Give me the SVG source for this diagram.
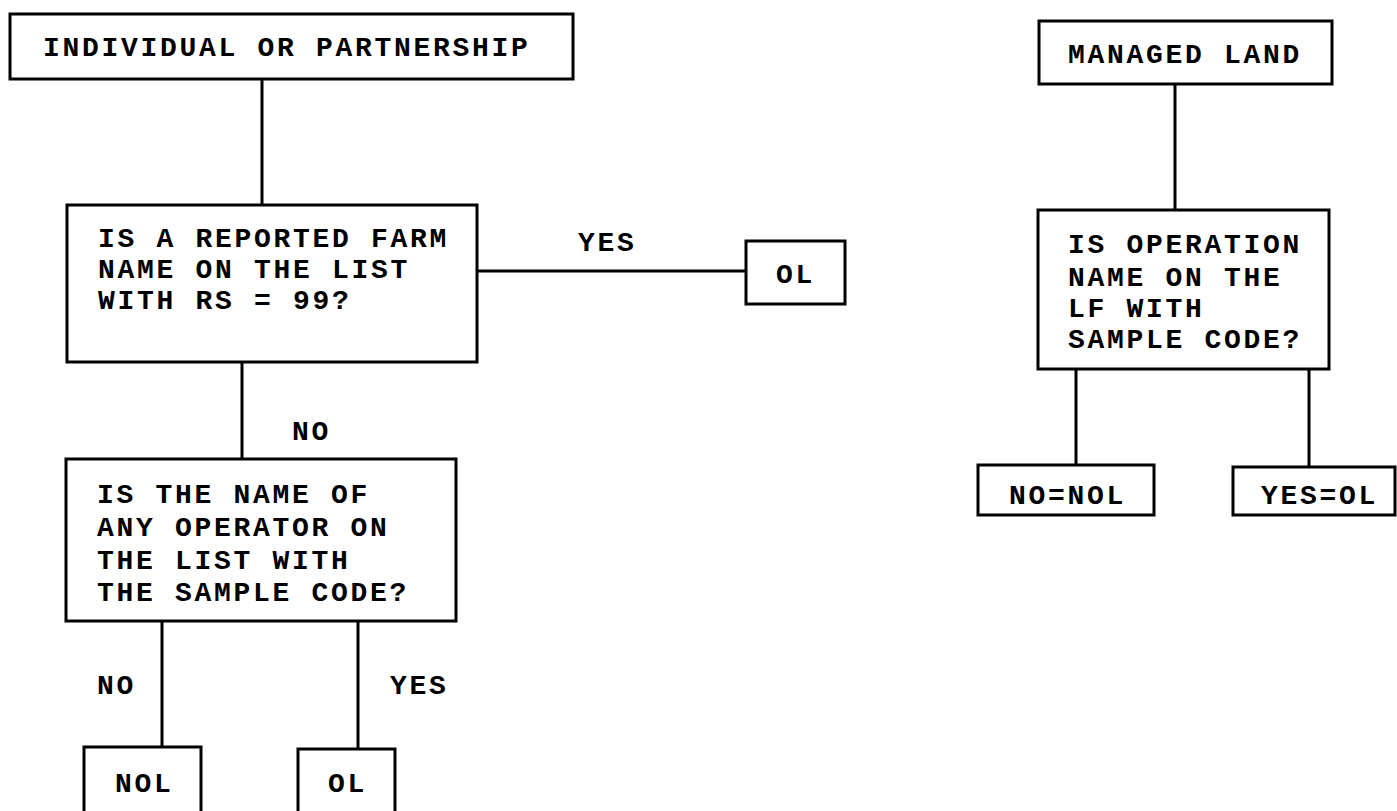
<svg xmlns="http://www.w3.org/2000/svg" width="1397" height="811" viewBox="0 0 1397 811">
<style>
.box{fill:#fff;stroke:#000;stroke-width:3}
.ln{fill:none;stroke:#000;stroke-width:3}
text{font-family:"Liberation Mono","Courier New",monospace;font-weight:bold;font-size:28px;letter-spacing:2.7px;fill:#000}
</style>
<rect width="1397" height="811" fill="#fff"/>
<g id="connectors">
<line class="ln" x1="262" y1="79" x2="262" y2="205"/>
<line class="ln" x1="477" y1="271" x2="746" y2="271"/>
<line class="ln" x1="242" y1="362" x2="242" y2="459"/>
<line class="ln" x1="162" y1="621" x2="162" y2="747"/>
<line class="ln" x1="358" y1="621" x2="358" y2="749"/>
<line class="ln" x1="1175" y1="84" x2="1175" y2="210"/>
<line class="ln" x1="1076" y1="369" x2="1076" y2="465"/>
<line class="ln" x1="1309" y1="369" x2="1309" y2="467"/>
<text x="578" y="251">YES</text>
<text x="292" y="440">NO</text>
<text x="97" y="694">NO</text>
<text x="390" y="694">YES</text>
</g>
<g id="n1">
<rect class="box" x="10" y="14" width="563" height="65"/>
<text x="43" y="56">INDIVIDUAL OR PARTNERSHIP</text>
</g>
<g id="n2">
<rect class="box" x="67" y="205" width="410" height="157"/>
<text x="98" y="247">IS A REPORTED FARM</text>
<text x="98" y="278">NAME ON THE LIST</text>
<text x="98" y="309">WITH RS = 99?</text>
</g>
<g id="n3">
<rect class="box" x="746" y="241" width="99" height="63"/>
<text x="776" y="283">OL</text>
</g>
<g id="n4">
<rect class="box" x="66" y="459" width="390" height="162"/>
<text x="97" y="503">IS THE NAME OF</text>
<text x="97" y="536">ANY OPERATOR ON</text>
<text x="97" y="569">THE LIST WITH</text>
<text x="97" y="601">THE SAMPLE CODE?</text>
</g>
<g id="n5">
<rect class="box" x="84" y="747" width="117" height="70"/>
<text x="115" y="792">NOL</text>
</g>
<g id="n6">
<rect class="box" x="298" y="749" width="97" height="70"/>
<text x="328" y="792">OL</text>
</g>
<g id="n7">
<rect class="box" x="1039" y="21" width="293" height="63"/>
<text x="1068" y="63">MANAGED LAND</text>
</g>
<g id="n8">
<rect class="box" x="1038" y="210" width="291" height="159"/>
<text x="1068" y="253">IS OPERATION</text>
<text x="1068" y="286">NAME ON THE</text>
<text x="1068" y="317">LF WITH</text>
<text x="1068" y="348">SAMPLE CODE?</text>
</g>
<g id="n9">
<rect class="box" x="978" y="465" width="176" height="50"/>
<text x="1009" y="504">NO=NOL</text>
</g>
<g id="n10">
<rect class="box" x="1233" y="467" width="162" height="48"/>
<text x="1261" y="504">YES=OL</text>
</g>
</svg>
